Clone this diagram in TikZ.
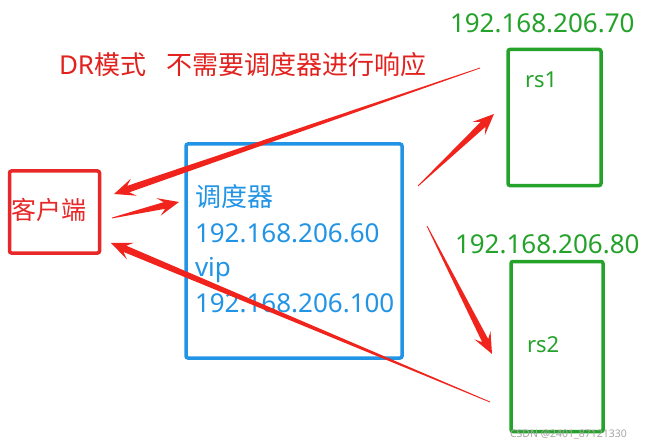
\documentclass[tikz,border=0pt]{standalone}
\usepackage{fontspec}
\setmainfont{Noto Sans}
\newfontfamily\cjk{Noto Sans CJK SC}
\usetikzlibrary{calc}
\definecolor{titlered}{RGB}{226,34,30}
\definecolor{boxred}{RGB}{232,40,40}
\definecolor{arrowred}{RGB}{240,36,28}
\definecolor{schedblue}{RGB}{33,148,230}
\definecolor{rsgreen}{RGB}{36,162,42}
\newcommand\taperarrow[2]{%
  \path ($(#2)!15pt!(#1)$) coordinate (ta-b) ($(#2)!21pt!(#1)$) coordinate (ta-w);
  \fill[arrowred] ($(#1)!0.4pt!90:(#2)$) -- ($(ta-b)!3.4pt!90:(#2)$) -- ($(ta-w)!9pt!90:(#2)$) -- (#2)
     -- ($(ta-w)!9pt!-90:(#2)$) -- ($(ta-b)!3.4pt!-90:(#2)$) -- ($(#1)!0.4pt!-90:(#2)$) -- cycle;}
\tikzset{
  boxbase/.style={draw, line width=3.5pt, rounded corners=2pt, inner sep=0pt, outer sep=0pt, fill=none},
  clientbox/.style={boxbase, draw=boxred},
  schedbox/.style={boxbase, draw=schedblue},
  rsbox/.style={boxbase, draw=rsgreen},
  txt/.style={anchor=base west, inner sep=0pt, outer sep=0pt},
  bigfont/.style={font=\fontsize{26pt}{30pt}\selectfont},
  midfont/.style={font=\fontsize{22pt}{26pt}\selectfont},
}
\begin{document}
\begin{tikzpicture}[x=1pt,y=-1pt]
\useasboundingbox (0,0) rectangle (649,444);
\fill[white] (0,0) rectangle (649,444);
% boxes
\node[clientbox, minimum width=90pt, minimum height=82pt] (client) at (54.5,212) {};
\node[schedbox, minimum width=216pt, minimum height=214pt] (sched) at (294,251) {};
\node[rsbox, minimum width=93pt, minimum height=136pt] (rs1) at (554.5,117.5) {};
\node[rsbox, minimum width=92pt, minimum height=170pt] (rs2) at (557,346.5) {};
% texts
\node[txt, font=\fontsize{26pt}{30pt}\selectfont, text=titlered] (title) at (59,75) {DR{\cjk 模式}\hspace{0.8em}{\cjk 不需要调度器进行响应}};
\node[txt, font=\cjk\fontsize{25pt}{30pt}\selectfont, text=boxred] (clienttxt) at (12,219) {客户端};
\node[txt, bigfont, text=schedblue] (s1) at (195,206) {\cjk 调度器};
\node[txt, bigfont, text=schedblue] (s2) at (195,242) {192.168.206.60};
\node[txt, bigfont, text=schedblue] (s3) at (195,276) {vip};
\node[txt, bigfont, text=schedblue] (s4) at (195,312) {192.168.206.100};
\node[txt, bigfont, text=rsgreen] (ip1) at (450,33) {192.168.206.70};
\node[txt, bigfont, text=rsgreen] (ip2) at (455,253) {192.168.206.80};
\node[txt, midfont, text=rsgreen] (rs1txt) at (525,88) {rs1};
\node[txt, midfont, text=rsgreen] (rs2txt) at (527,352) {rs2};
\node[txt, font=\fontsize{10.5pt}{12pt}\selectfont, text=black!35] (wm) at (510,437) {CSDN @2401\_87121330};
% arrow end points
\coordinate (a1s) at (480,68);  \coordinate (a1t) at (114,194);
\coordinate (a2s) at (112,218); \coordinate (a2t) at (179,202);
\coordinate (a3s) at (490,402); \coordinate (a3t) at (111,243);
\coordinate (a4s) at (418,186); \coordinate (a4t) at (494,114);
\coordinate (a5s) at (427,226); \coordinate (a5t) at (492,354);
\taperarrow{a1s}{a1t}
\taperarrow{a2s}{a2t}
\taperarrow{a3s}{a3t}
\taperarrow{a4s}{a4t}
\taperarrow{a5s}{a5t}
\end{tikzpicture}
\end{document}
